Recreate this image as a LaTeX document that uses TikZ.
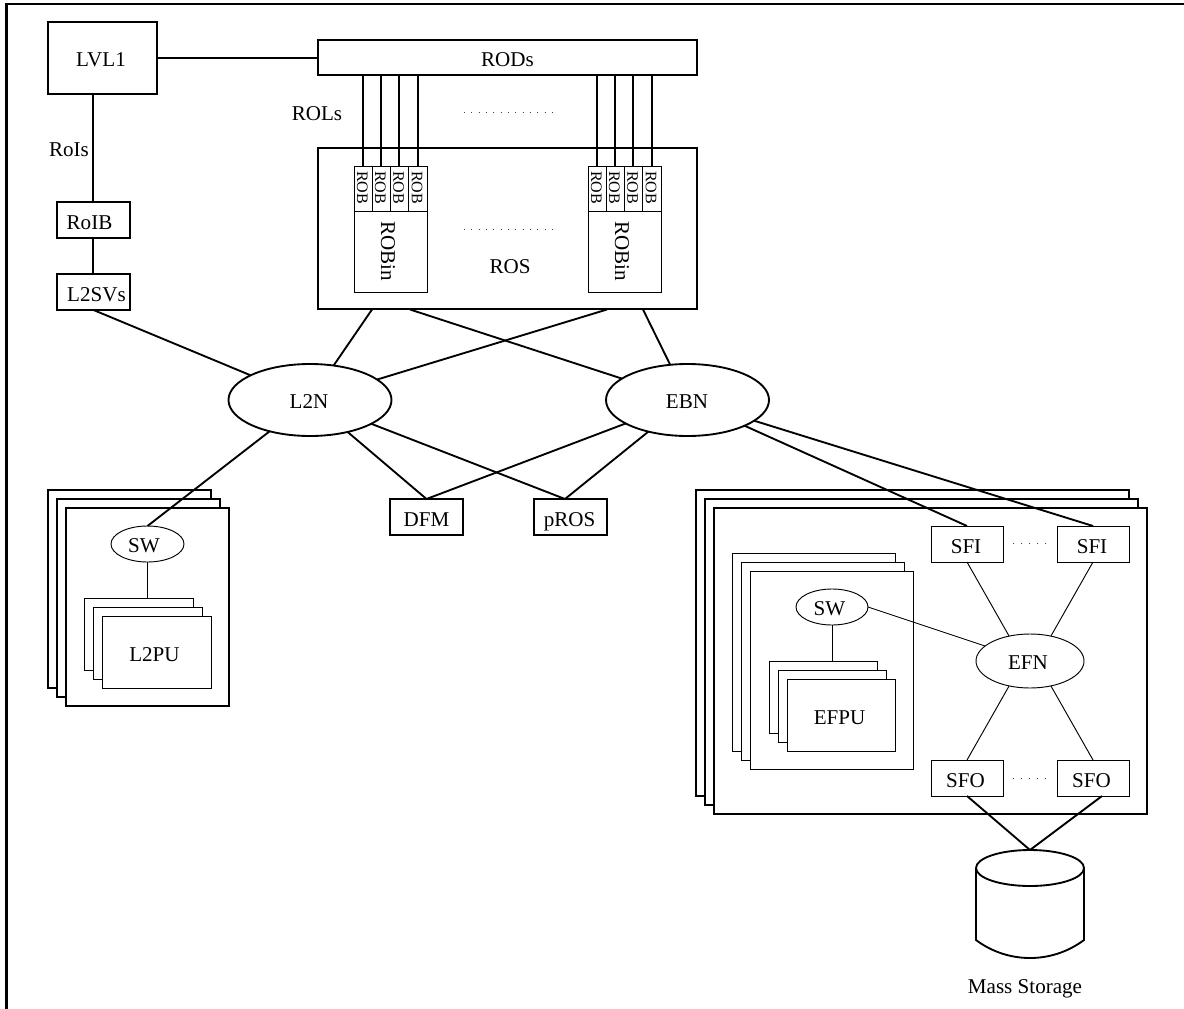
\documentclass[tikz,border=0pt]{standalone}
\usepackage{fontspec}
\setmainfont{Liberation Serif}
\usetikzlibrary{shapes.geometric,calc}
\newlength{\pxu}\setlength{\pxu}{0.75pt}
% text set in a zero-size box: dx offset from centre, baseline dy below centre (px)
\newcommand\tx[3][9]{\smash{\raisebox{-#1\pxu}{\makebox[0pt][c]{\kern #2\pxu\kern #2\pxu #3}}}}
% rectangle given by its corners
\newcommand\bx[7][]{%
  \pgfmathsetmacro\bw{(#5-#3)*0.75}\pgfmathsetmacro\bh{(#6-#4)*0.75}%
  \node[boxnode,minimum width=\bw pt,minimum height=\bh pt,#1] (#2) at ({(#3+#5)/2},{(#4+#6)/2}) {#7};}
% ellipse given by centre and semi-axes
\newcommand\el[6][]{%
  \pgfmathsetmacro\bw{#5*1.5}\pgfmathsetmacro\bh{#6*1.5}%
  \node[ovalnode,minimum width=\bw pt,minimum height=\bh pt,#1] (#2) at (#3,#4) {};}
\tikzset{
  heavy/.style={line width=1.4pt},
  light/.style={line width=0.7pt},
  boxnode/.style={draw,fill=white,rectangle,inner sep=0pt,outer sep=0pt,font=\fontsize{15.8}{18}\selectfont},
  ovalnode/.style={draw,fill=white,ellipse,inner sep=0pt,outer sep=0pt,font=\fontsize{15.8}{18}\selectfont},
  smallrob/.style={font=\fontsize{12}{14}\selectfont},
  plainlabel/.style={inner sep=0pt,font=\fontsize{15.8}{18}\selectfont},
  framedge/.style={line width=1.8pt},
  dotrow/.style={line width=0.7pt,black!75,dash pattern=on 0.75pt off 4.75pt},
  dotshort/.style={line width=0.7pt,black!75,dash pattern=on 0.75pt off 5.25pt}
}
\begin{document}
\begin{tikzpicture}[x=0.75pt,y=-0.75pt]
\useasboundingbox (0,0) rectangle (1184,1009);
\draw[framedge] (6.5,1009) -- (6.5,4.3) -- (1184,4.3);

% top row
\bx[heavy]{lvl1}{48}{22}{157}{94}{\tx{-1.5}{LVL1}}
\bx[heavy]{rods}{318}{40}{697}{75}{\tx{0}{RODs}}
\bx[heavy]{roib}{57}{202}{130}{238}{\tx{-4}{RoIB}}
\bx[heavy]{l2sv}{57}{274}{130}{310}{\tx{3}{L2SVs}}
\node[plainlabel] (roislabel) at (69,150) {RoIs};
\node[plainlabel] (rolslabel) at (317,114) {ROLs};

% ROS
\bx[heavy]{ros}{318}{148}{697}{309}{}
\node[plainlabel] (roslabel) at (510,267) {ROS};
\foreach \n/\a/\b in {a1/354/372,a2/372/390,a3/390/408.5,a4/408.5/427,
                      b1/588/606,b2/606/624,b3/624/642.5,b4/642.5/661}{
  \pgfmathsetmacro\rw{45*0.75}\pgfmathsetmacro\rh{(\b-\a)*0.75}
  \node[boxnode,light,smallrob,rotate=-90,minimum width=\rw pt,minimum height=\rh pt]
    (rob\n) at ({(\a+\b)/2},188.5) {\tx[6]{-1}{ROB}};
}
\pgfmathsetmacro\rw{81*0.75}\pgfmathsetmacro\rh{73*0.75}
\node[boxnode,light,rotate=-90,minimum width=\rw pt,minimum height=\rh pt]
  (robina) at (390.5,251.5) {\tx[9.5]{0}{ROBin}};
\node[boxnode,light,rotate=-90,minimum width=\rw pt,minimum height=\rh pt]
  (robinb) at (624.5,251.5) {\tx[9.5]{0}{ROBin}};
\draw[dotrow] (464,112) -- (554,112);
\draw[dotrow] (464,229) -- (554,229);

% networks
\el[heavy]{l2n}{310}{400}{81.5}{36}
\el[heavy]{ebn}{687.5}{400}{81.5}{36}
\node[plainlabel] (l2ntext) at (309,402) {L2N};
\node[plainlabel] (ebntext) at (687,402) {EBN};
\bx[heavy]{dfm}{390}{499}{463}{535}{\tx{0}{DFM}}
\bx[heavy]{pros}{534}{499}{607}{535}{\tx{-1}{pROS}}

% left farm
\bx[heavy]{la}{48}{490}{211}{688}{}
\bx[heavy]{lb}{57}{499}{220}{697}{}
\bx[heavy]{lc}{66}{508}{229}{706}{}
\el[light]{swl}{147.5}{544}{36.5}{18}
\node[plainlabel] (swltext) at (144,546) {SW};
\bx[light]{pa}{84}{598}{193}{670}{}
\bx[light]{pb}{93}{607}{202}{679}{}
\bx[light]{pc}{102}{616}{211}{688}{\tx{-2}{L2PU}}

% right farm
\bx[heavy]{ra}{696}{490}{1129}{796}{}
\bx[heavy]{rb}{705}{499}{1138}{805}{}
\bx[heavy]{rc}{714}{508}{1147}{814}{}
\bx[light]{ia}{732}{553}{895}{751}{}
\bx[light]{ib}{741}{562}{904}{760}{}
\bx[light]{ic}{750}{571}{913}{769}{}
\el[light]{swr}{832}{607}{36}{18}
\node[plainlabel] (swrtext) at (829.5,609) {SW};
\bx[light]{ea}{769}{661}{877}{733}{}
\bx[light]{eb}{778}{670}{886}{742}{}
\bx[light]{ec}{787}{679}{895}{751}{\tx{-1.5}{EFPU}}
\bx[light]{sfia}{931}{526}{1003}{562}{\tx{-1}{SFI}}
\bx[light]{sfib}{1057}{526}{1129}{562}{\tx{-1}{SFI}}
\bx[light]{sfoa}{931}{760}{1003}{796}{\tx{-1.5}{SFO}}
\bx[light]{sfob}{1057}{760}{1129}{796}{\tx{-1.5}{SFO}}
\el[light]{efn}{1030}{661}{54}{27}
\node[plainlabel] (efntext) at (1028,663) {EFN};
\draw[dotshort] (1013,543.5) -- (1047,543.5);
\draw[dotshort] (1013,778) -- (1047,778);

% mass storage
\draw[heavy] (976,868) -- (976,940) .. controls (992,952) and (1011,958) .. (1030,958)
  .. controls (1049,958) and (1068,952) .. (1084,940) -- (1084,868);
\draw[heavy] (1030,868) ellipse [x radius=54,y radius=18];
\coordinate (cyltop) at (1030,850);
\node[inner sep=0pt,font=\fontsize{15.8}{18}\selectfont] (mslabel) at (1025,989) {Mass Storage};

% connectors
\coordinate (rosa) at (372,309.5);
\coordinate (rosb) at (410,309.5);
\coordinate (rosc) at (607,309.5);
\coordinate (rosd) at (643,309.5);
\coordinate (prosin) at (565,499);
\coordinate (sfobout) at (1102,796);
\coordinate (roibtop) at (93,202);
\coordinate (roibbot) at (93,238);
\begin{scope}[heavy]
\draw (lvl1.east) -- (lvl1.east -| rods.west);
\draw (roibtop) -- (roibtop |- lvl1.south);
\draw (roibbot) -- (roibbot |- l2sv.north);
\draw (l2sv.south) -- (l2n);
\foreach \n in {a1,a2,a3,a4,b1,b2,b3,b4}
  \draw (rob\n.west) -- (rob\n.west |- rods.south);
\draw (rosa) -- (l2n);
\draw (rosb) -- (ebn);
\draw (rosc) -- (l2n);
\draw (rosd) -- (ebn);
\draw (swl.north) -- (l2n);
\draw (dfm.north) -- (l2n);
\draw (prosin) -- (l2n);
\draw (dfm.north) -- (ebn);
\draw (prosin) -- (ebn);
\draw (sfia.north) -- (ebn);
\draw (sfib.north) -- (ebn);
\draw (sfoa.south) -- (cyltop);
\draw (sfobout) -- (cyltop);
\end{scope}
\begin{scope}[light]
\draw (swl.south) -- (swl.south |- pa.north);
\draw (swr.south) -- (swr.south |- ea.north);
\draw (swr.east) -- (efn);
\draw (sfia.south) -- (efn.130);
\draw (sfib.south) -- (efn.50);
\draw (sfoa.north) -- (efn.230);
\draw (sfob.north) -- (efn.310);
\end{scope}
\end{tikzpicture}
\end{document}
